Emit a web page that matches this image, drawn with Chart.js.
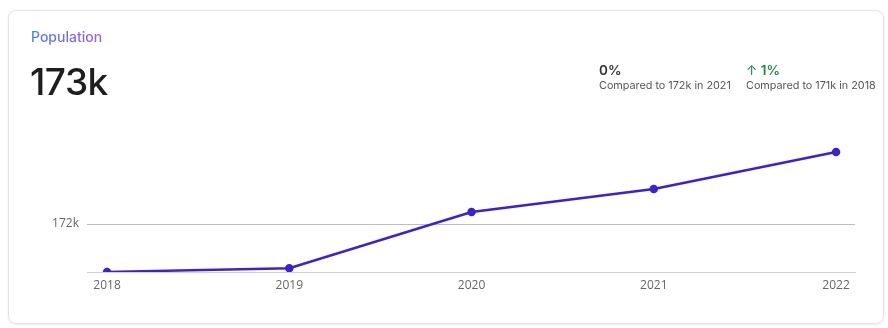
<!DOCTYPE html>
<html>
<head>
<meta charset="utf-8">
<script src="https://cdn.jsdelivr.net/npm/chart.js@4"></script>
<style>
  html, body { margin:0; padding:0; background:#fff; width:888px; height:328px; overflow:hidden; font-family: Inter, "Noto Sans", sans-serif; }
  .card { position:absolute; left:8px; top:10px; width:874px; height:312px; border:1px solid #e3e3e3; border-radius:8px; box-shadow:0 1px 3px rgba(0,0,0,0.08); }
  #c { position:absolute; left:0; top:0; }
  .title { position:absolute; left:31px; top:28px; font-size:14px; font-weight:500; background:linear-gradient(90deg,#4b7fe6,#a05be4); -webkit-background-clip:text; background-clip:text; color:transparent; }
  .big { position:absolute; left:30px; top:61px; font-size:37px; font-weight:500; color:#1e1e1e; letter-spacing:-0.5px; line-height:42px; }
  .stat { position:absolute; top:62px; }
  .stat .v { font-size:13.5px; font-weight:600; color:#333; line-height:17px; }
  .stat .v.up { color:#1f8a4c; }
  .stat .v .arr { font-weight:400; }
  .stat .s { font-size:10.8px; color:#555; line-height:14px; white-space:nowrap; }
</style>
</head>
<body>
<div class="card"></div>
<canvas id="c" width="888" height="328"></canvas>
<div class="title">Population</div>
<div class="big">173k</div>
<div class="stat" style="left:599px"><div class="v">0%</div><div class="s">Compared to 172k in 2021</div></div>
<div class="stat" style="left:746px"><div class="v up"><span class="arr">↑</span> 1%</div><div class="s">Compared to 171k in 2018</div></div>
<script>
const years = ['2018', '2019', '2020', '2021', '2022'];
const population = [171000, 171080, 172250, 172730, 173500];
const yTicks = [172000];
const yTickLabels = ['172k'];

new Chart(document.getElementById('c'), {
  type: 'line',
  data: {
    datasets: [{
      data: population.map((v, i) => ({ x: i, y: v })),
      borderColor: '#3a22d2',
      backgroundColor: '#3a22d2',
      borderWidth: 2.5,
      pointRadius: 3,
      pointHoverRadius: 3,
      tension: 0,
      fill: false
    }]
  },
  options: {
    responsive: false,
    animation: false,
    layout: { padding: { left: 30, right: 33, top: 128, bottom: 0 } },
    plugins: { legend: { display: false }, tooltip: { enabled: false } },
    scales: {
      x: {
        type: 'linear',
        min: -0.11,
        max: 4.104,
        grid: { display: false, drawTicks: false },
        border: { display: true, color: '#cfcfcf', width: 1 },
        afterBuildTicks: s => { s.ticks = years.map((y, i) => ({ value: i })); },
        ticks: { color: '#666', font: { family: '"Open Sans", sans-serif', size: 12 }, padding: 6, maxRotation: 0,
                 callback: v => years[v] },
        afterFit: s => { s.height = 56; }
      },
      y: {
        min: 171000,
        max: 174000,
        grid: { color: '#bdbdbd', drawTicks: false, lineWidth: 1 },
        border: { display: false },
        afterBuildTicks: s => { s.ticks = yTicks.map(v => ({ value: v })); },
        ticks: {
          color: '#666',
          font: { family: '"Open Sans", sans-serif', size: 12 },
          padding: 8,
          callback: (v) => yTickLabels[yTicks.indexOf(v)]
        },
        afterFit: s => { s.width = 57; }
      }
    }
  }
});
</script>
</body>
</html>
